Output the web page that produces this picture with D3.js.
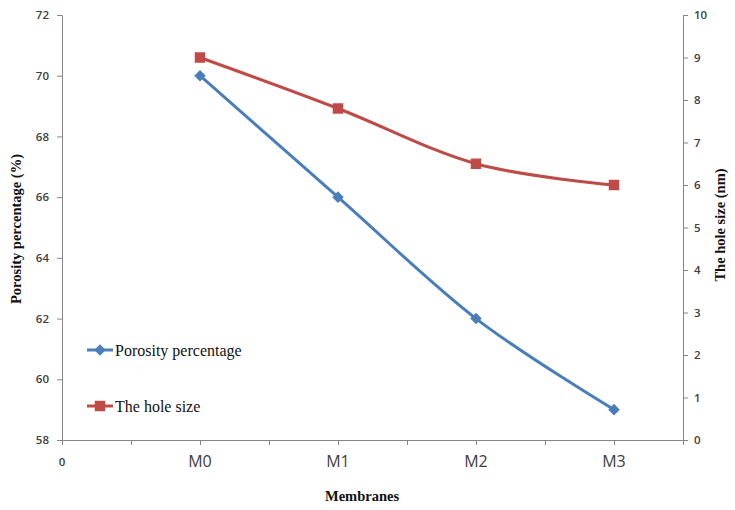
<!DOCTYPE html>
<html>
<head>
<meta charset="utf-8">
<script src="https://cdn.jsdelivr.net/npm/d3@7"></script>
<style>
  body { margin: 0; background: #fff; }
  svg text { font-family: "Open Sans", "DejaVu Sans", sans-serif; }
</style>
</head>
<body>
<svg id="chart"></svg>
<script>
// Data
const membranes = ["M0", "M1", "M2", "M3"];
const porosity = [70, 66, 62, 59];
const holeSize = [9, 7.8, 6.5, 6.0];
const leftTicks = [58, 60, 62, 64, 66, 68, 70, 72];
const rightTicks = [0, 1, 2, 3, 4, 5, 6, 7, 8, 9, 10];

const width = 735;
const height = 510;
const plot = { left: 62, right: 683, top: 15, bottom: 440 };

const svg = d3.select("#chart")
  .attr("width", width)
  .attr("height", height);

// x is a position scale, the categories sit at 1..4 with half-step ticks
const x = d3.scaleLinear()
  .domain([0, 4.5])
  .range([plot.left, plot.right]);

const yLeft = d3.scaleLinear()
  .domain([58, 72])
  .range([plot.bottom, plot.top]);

const yRight = d3.scaleLinear()
  .domain([0, 10])
  .range([plot.bottom, plot.top]);

const axisColor = "#868686";
const labelColor = "#404040";

// left axis
const gLeft = svg.append("g")
  .attr("transform", `translate(${plot.left},0)`)
  .call(d3.axisLeft(yLeft).tickValues(leftTicks).tickSize(5).tickSizeOuter(5).tickPadding(8));

// right axis
const gRight = svg.append("g")
  .attr("transform", `translate(${plot.right},0)`)
  .call(d3.axisRight(yRight).tickValues(rightTicks).tickSize(5).tickSizeOuter(5).tickPadding(6));

// bottom axis
const gBottom = svg.append("g")
  .attr("transform", `translate(0,${plot.bottom})`)
  .call(d3.axisBottom(x).tickValues(d3.range(0, 4.51, 0.5)).tickSize(5).tickSizeOuter(0).tickFormat(""));

[gLeft, gRight, gBottom].forEach(g => {
  g.selectAll(".domain").attr("stroke", axisColor);
  g.selectAll(".tick line").attr("stroke", axisColor);
  g.selectAll(".tick text")
    .attr("fill", labelColor)
    .style("font-size", "11.5px")
    .style("font-weight", "600");
});

// category labels under the x axis
const xLabels = ["0"].concat(membranes);
svg.append("g")
  .selectAll("text")
  .data(xLabels)
  .enter().append("text")
  .attr("x", (d, i) => x(i))
  .attr("y", 463)
  .attr("text-anchor", "middle")
  .attr("dominant-baseline", "middle")
  .attr("fill", labelColor)
  .style("font-size", (d, i) => i === 0 ? "11.5px" : "16px")
  .style("font-weight", (d, i) => i === 0 ? "600" : "400")
  .text(d => d);

// series
const blue = "#4A7EBB";
const red = "#BE4B48";

const porosityPts = membranes.map((m, i) => [x(i + 1), yLeft(porosity[i])]);
const holePts = membranes.map((m, i) => [x(i + 1), yRight(holeSize[i])]);

const line = d3.line().curve(d3.curveCardinal.tension(0));

svg.append("path")
  .attr("d", line(holePts))
  .attr("fill", "none")
  .attr("stroke", red)
  .attr("stroke-width", 3);

svg.append("path")
  .attr("d", line(porosityPts))
  .attr("fill", "none")
  .attr("stroke", blue)
  .attr("stroke-width", 3);

const diamond = d3.symbol().type(d3.symbolDiamond2).size(85);
const square = d3.symbol().type(d3.symbolSquare).size(110);

svg.append("g")
  .selectAll("path")
  .data(holePts)
  .enter().append("path")
  .attr("d", square)
  .attr("transform", d => `translate(${d[0]},${d[1]})`)
  .attr("fill", red);

svg.append("g")
  .selectAll("path")
  .data(porosityPts)
  .enter().append("path")
  .attr("d", diamond)
  .attr("transform", d => `translate(${d[0]},${d[1]})`)
  .attr("fill", blue);

// legend
const legend = [
  { label: "Porosity percentage", color: blue, symbol: diamond, y: 350 },
  { label: "The hole size", color: red, symbol: square, y: 406 }
];

const lg = svg.append("g").selectAll("g")
  .data(legend)
  .enter().append("g")
  .attr("transform", d => `translate(87,${d.y})`);

lg.append("line")
  .attr("x1", 0).attr("x2", 26)
  .attr("stroke", d => d.color)
  .attr("stroke-width", 3);

lg.append("path")
  .attr("d", d => d.symbol())
  .attr("transform", "translate(13,0)")
  .attr("fill", d => d.color);

lg.append("text")
  .attr("x", 28)
  .attr("dy", "0.35em")
  .style("font-family", "'Liberation Serif', serif")
  .style("font-size", "16px")
  .attr("fill", "#111")
  .text(d => d.label);

// axis titles
svg.append("text")
  .attr("transform", "translate(21,229) rotate(-90)")
  .attr("text-anchor", "middle")
  .style("font-family", "'Liberation Serif', serif")
  .style("font-size", "14.5px")
  .style("font-weight", "bold")
  .attr("fill", "#111")
  .text("Porosity percentage (%)");

svg.append("text")
  .attr("transform", "translate(725,225) rotate(-90)")
  .attr("text-anchor", "middle")
  .style("font-family", "'Liberation Serif', serif")
  .style("font-size", "14.5px")
  .style("font-weight", "bold")
  .attr("fill", "#111")
  .text("The hole size (nm)");

svg.append("text")
  .attr("x", 362)
  .attr("y", 501)
  .attr("text-anchor", "middle")
  .style("font-family", "'Liberation Serif', serif")
  .style("font-size", "14.5px")
  .style("font-weight", "bold")
  .attr("fill", "#111")
  .text("Membranes");
</script>
</body>
</html>
